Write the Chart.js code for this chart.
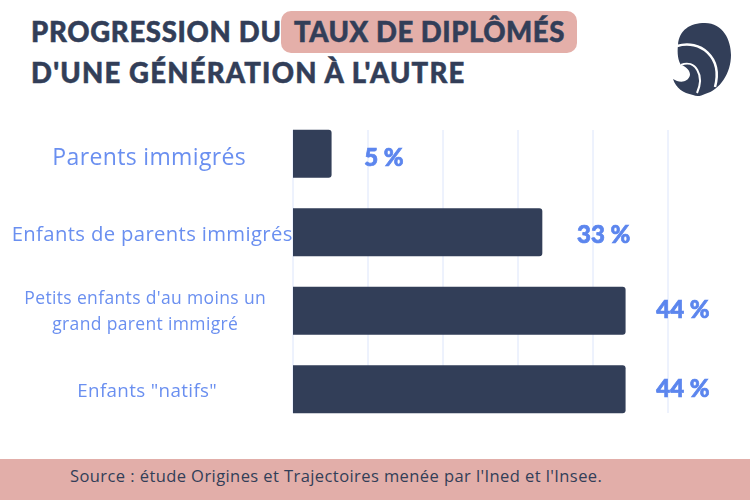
<!DOCTYPE html>
<html lang="fr">
<head>
<meta charset="utf-8">
<script src="https://cdn.jsdelivr.net/npm/chart.js@4"></script>
<style>
  html, body { margin: 0; padding: 0; background: #fff; }
  #page { position: relative; width: 750px; height: 500px; overflow: hidden; }
  #chart { position: absolute; left: 0; top: 0; }
  .title { position: absolute; font: 900 27.5px Lato, sans-serif; letter-spacing: .55px; color: #323e58; -webkit-text-stroke: .5px #323e58; white-space: nowrap; line-height: 40px; }
  #highlight { position: absolute; left: 281px; top: 11px; width: 296px; height: 42px; background: #e4afa9; border-radius: 10px; }
  #footer { position: absolute; left: 0; top: 459px; width: 750px; height: 41px; background: #e2aea9; }
  #source { position: absolute; left: 70px; top: 464px; font: 16.5px "Open Sans", sans-serif; letter-spacing: .42px; color: #323e58; white-space: nowrap; }
  #logo { position: absolute; left: 665px; top: 15px; }
</style>
</head>
<body>
<div id="page">
  <div id="highlight"></div>
  <div class="title" style="left:31px;top:12px;letter-spacing:.7px">PROGRESSION DU</div>
  <div class="title" style="left:294px;top:12px">TAUX DE DIPLÔMÉS</div>
  <div class="title" style="left:31px;top:53px;letter-spacing:1.2px">D'UNE GÉNÉRATION À L'AUTRE</div>
  <svg id="logo" width="80" height="90" viewBox="0 0 80 90">
    <path d="M13 30 C14 15 25 8 40 8 C58 8 66 25 66 40 C66 58 55 75 40 79 C36 81 32 82 28 80 C18 78 11 73 8 64 C14 68 23 68 25 60 C25 56 22 52 16 50 C13 46 12 38 13 30Z" fill="#323e58"/>
    <path d="M12 31 C35 24 58 42 50 72" fill="none" stroke="#fff" stroke-width="2.5"/>
    <path d="M16 50 C30 44 40 60 32 78" fill="none" stroke="#fff" stroke-width="2"/>
  </svg>
  <div id="footer"></div>
  <div id="source">Source : étude Origines et Trajectoires menée par l'Ined et l'Insee.</div>
  <canvas id="chart" width="750" height="500"></canvas>
</div>
<script>
// ---------- Data ----------
const categories = [
  "Parents immigrés",
  "Enfants de parents immigrés",
  ["Petits enfants d'au moins un", "grand parent immigré"],
  'Enfants "natifs"',
];
const barValues = [5.1, 33.2, 44.3, 44.3];
const valueLabels = ["5 %", "33 %", "44 %", "44 %"];
const tickFontSizes = [23, 20.3, 17.5, 18.8];

// hand placed text in the original, small per row nudges [dx, dy]
const tickNudges = [[0, 5], [3, 3], [-4, 1], [-2, 2]];
const labelNudges = [[1, 4], [3, 2], [-1, -1], [-1, -1]];

// ---------- Plugins ----------
// grid only runs from the top of the first bar to the bottom of the last one
const shortGrid = {
  id: "shortGrid",
  beforeDatasetsDraw(chart) {
    const bars = chart.getDatasetMeta(0).data;
    const top = bars[0].y - bars[0].height / 2;
    const bottom = bars[bars.length - 1].y + bars[0].height / 2;
    const ctx = chart.ctx;
    ctx.save();
    ctx.strokeStyle = "#dce5fb";
    ctx.lineWidth = 1;
    chart.scales.x.ticks.forEach((t) => {
      const x = chart.scales.x.getPixelForValue(t.value);
      ctx.beginPath();
      ctx.moveTo(x, top);
      ctx.lineTo(x, bottom);
      ctx.stroke();
    });
    ctx.restore();
  },
};

const tickTweaks = {
  id: "tickTweaks",
  beforeDraw(chart) {
    chart.ctx.letterSpacing = "0.35px";
    chart.scales.y.getLabelItems().forEach((item, i) => {
      item.options.translation[0] += tickNudges[i][0];
      item.options.translation[1] += tickNudges[i][1];
    });
  },
};

const barLabels = {
  id: "barLabels",
  afterDatasetsDraw(chart) {
    const ctx = chart.ctx;
    ctx.save();
    ctx.letterSpacing = "0px";
    ctx.font = "900 24px Lato, sans-serif";
    ctx.fillStyle = "#5c86ee";
    ctx.strokeStyle = "#5c86ee";
    ctx.lineWidth = 0.7;
    ctx.textBaseline = "middle";
    chart.getDatasetMeta(0).data.forEach((bar, i) => {
      const x = bar.x + 32 + labelNudges[i][0];
      const y = bar.y + 1 + labelNudges[i][1];
      ctx.fillText(valueLabels[i], x, y);
      ctx.strokeText(valueLabels[i], x, y);
    });
    ctx.restore();
  },
};

// ---------- Chart ----------
new Chart(document.getElementById("chart"), {
  type: "bar",
  data: {
    labels: categories,
    datasets: [{
      data: barValues,
      backgroundColor: "#323e58",
      barThickness: 47.5,
      borderRadius: { topRight: 3, bottomRight: 3 },
    }],
  },
  options: {
    indexAxis: "y",
    responsive: false,
    animation: false,
    layout: { padding: { top: 114.5, bottom: 71.5, right: 82 } },
    plugins: { legend: { display: false }, tooltip: { enabled: false } },
    scales: {
      x: {
        min: 0,
        max: 50,
        afterFit: (scale) => { scale.height = 0; },
        ticks: { display: false, stepSize: 10 },
        grid: { display: false },
        border: { display: false },
      },
      y: {
        afterFit: (scale) => { scale.width = 293; },
        grid: { display: false, drawTicks: false },
        border: { display: false },
        ticks: {
          crossAlign: "center",
          padding: 8,
          color: "#6a8ff0",
          font: (c) => ({ family: "'Open Sans', sans-serif", size: tickFontSizes[c.index], lineHeight: 1.5 }),
        },
      },
    },
  },
  plugins: [shortGrid, tickTweaks, barLabels],
});
</script>
</body>
</html>
